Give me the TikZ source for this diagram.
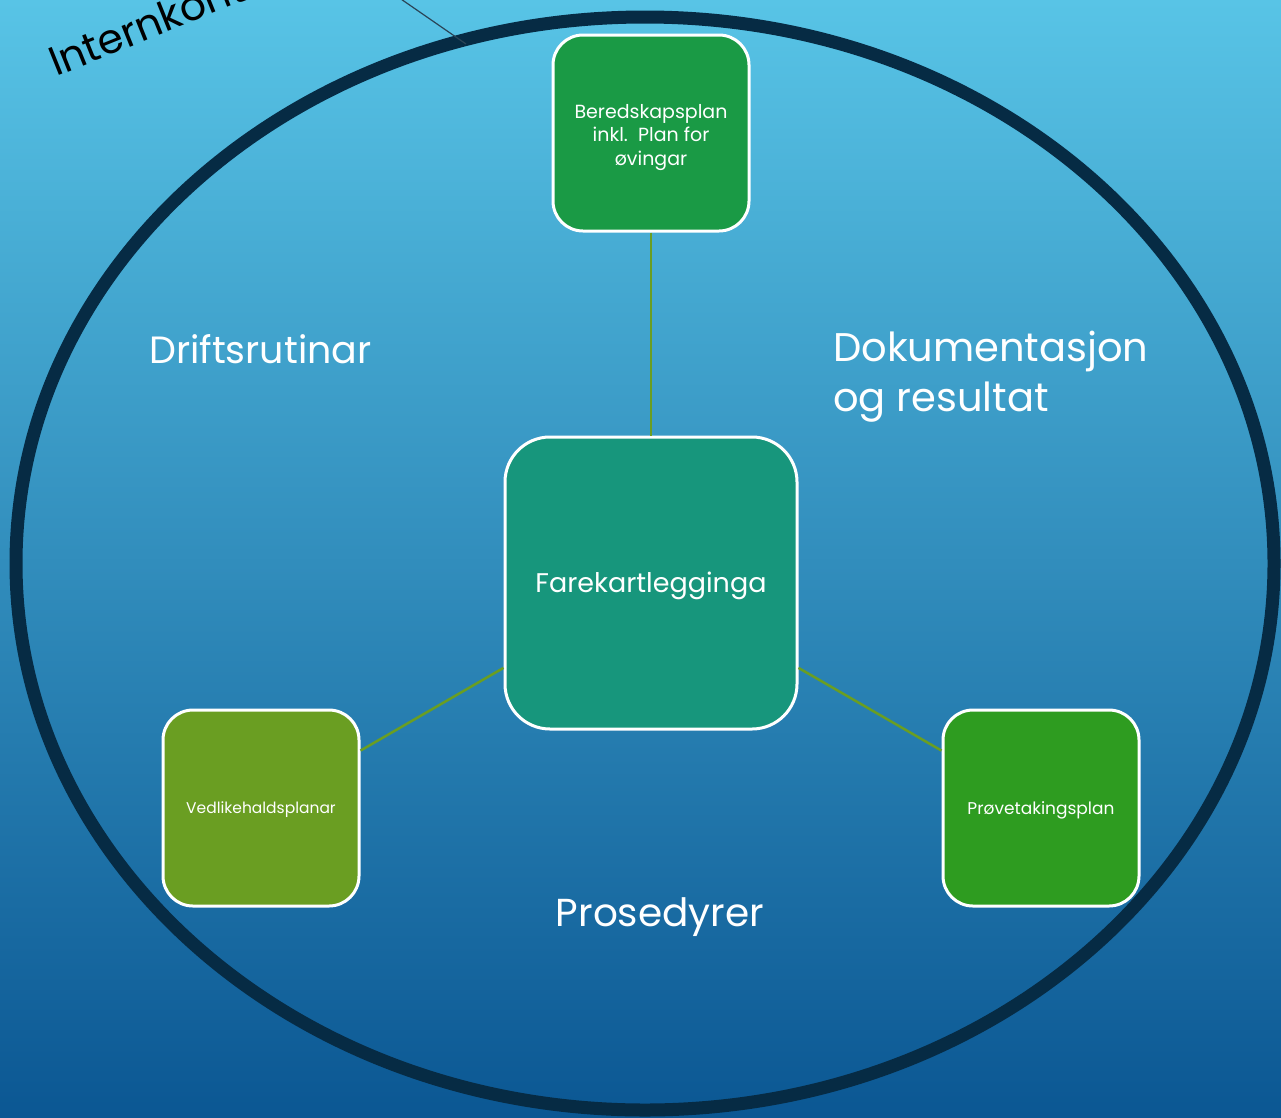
\documentclass[tikz,border=0pt]{standalone}
\usepackage{fontspec}
\setmainfont{Poppins}
\usetikzlibrary{shapes.misc}
\definecolor{bgtop}{HTML}{58C4E6}
\definecolor{bgbot}{HTML}{0B5793}
\definecolor{ringc}{HTML}{062B44}
\definecolor{topg}{HTML}{1A9A45}
\definecolor{centg}{HTML}{17967C}
\definecolor{leftg}{HTML}{6A9E22}
\definecolor{rightg}{HTML}{2E9C20}
\definecolor{connc}{HTML}{6A9E22}
\newcommand{\lowerby}[2]{\raisebox{-#1}[\height][\depth]{#2}}
\tikzset{
  smallbox/.style={draw=white, line width=3pt, rounded corners=30pt,
    minimum width=196pt, minimum height=196pt, text=white, align=center, inner sep=0pt},
  bigbox/.style={draw=white, line width=3pt, rounded corners=45pt,
    minimum width=292pt, minimum height=292pt, text=white, align=center, inner sep=0pt},
  conn/.style={draw=connc, line width=2.5pt},
  biglabel/.style={text=white, font=\fontsize{38}{50}\selectfont, inner sep=0pt}
}
\begin{document}
\begin{tikzpicture}[x=1pt,y=-1pt]
\useasboundingbox (0,0) rectangle (1281,1117);
\clip (0,0) rectangle (1281,1117);
\shade[top color=bgtop, bottom color=bgbot] (0,0) rectangle (1281,1117);
% outer ring
\draw[ringc, line width=13pt] (645,563.5) ellipse [x radius=629pt, y radius=546.5pt];
% pointer line and title
\coordinate (ptrstart) at (330,-50);
\coordinate (ptrend) at (466,44);
\draw[color=ringc!70!gray, line width=1.2pt] (ptrstart) -- (ptrend);
\node[rotate=22, anchor=base west, inner sep=0pt, font=\fontsize{41}{44}\selectfont] (title) at (56,77) {Internkontroll};
% nodes
\node[smallbox, fill=topg, font=\fontsize{19}{23.5}\selectfont] (bered) at (651,133)
  {\lowerby{4pt}{\begin{tabular}{@{}c@{}}Beredskapsplan\\inkl.\ \ Plan for\\øvingar\end{tabular}}};
\node[bigbox, fill=centg, font=\fontsize{27}{32}\selectfont] (fare) at (651,583) {\lowerby{3pt}{Farekartlegginga}};
\node[smallbox, fill=leftg, font=\fontsize{15.5}{20}\selectfont] (vedl) at (261,808) {\lowerby{2pt}{Vedlikehaldsplanar}};
\node[smallbox, fill=rightg, font=\fontsize{17}{20}\selectfont] (prove) at (1041,808) {\lowerby{2pt}{Prøvetakingsplan}};
% connectors
\draw[conn] (bered) -- (fare);
\draw[conn] (fare) -- (vedl);
\draw[conn] (fare) -- (prove);
% labels
\node[biglabel, anchor=west] (drift) at (149,349) {Driftsrutinar};
\node[biglabel, anchor=north west, align=left, font=\fontsize{40}{50}\selectfont] (doku) at (833,331) {Dokumentasjon\\og resultat};
\node[biglabel, font=\fontsize{39}{50}\selectfont] (pros) at (660,917) {Prosedyrer};
\end{tikzpicture}
\end{document}
